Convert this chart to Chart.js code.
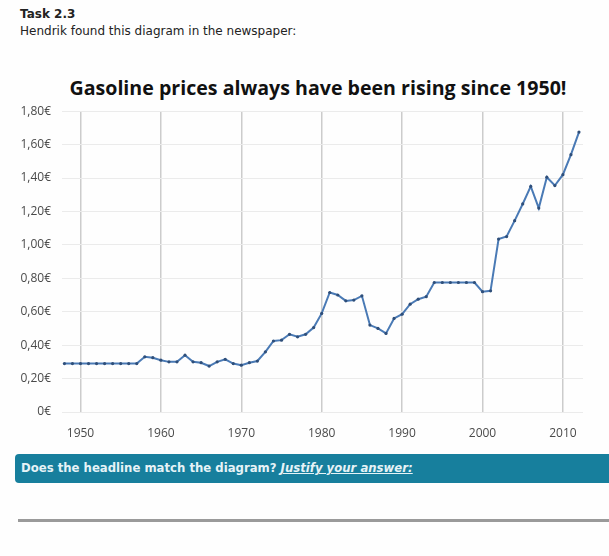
<!DOCTYPE html>
<html>
<head>
<meta charset="utf-8">
<script src="https://cdn.jsdelivr.net/npm/chart.js@4"></script>
<style>
  body { margin: 0; background: #fefefe; width: 609px; height: 556px; overflow: hidden; position: relative; }
  .hand { position: absolute; font-family: "DejaVu Sans", sans-serif; color: #222; }
  #task { left: 20px; top: 7px; font-size: 12px; font-weight: bold; }
  #intro { left: 20px; top: 24px; font-size: 12px; }
  #headline { position: absolute; left: 0; width: 636px; text-align: center; top: 74px;
    font-family: "Open Sans", sans-serif; font-weight: bold; font-size: 19.6px; color: #111; }
  #chart-box { position: absolute; left: 0; top: 93px; width: 609px; height: 352px; }
  #banner { position: absolute; left: 15px; top: 454px; width: 600px; height: 29px; background: #177f9d;
    border-radius: 4px; }
  #banner span { position: absolute; left: 6px; top: 7px; font-family: "DejaVu Sans", sans-serif;
    font-size: 11.7px; font-weight: bold; color: #e6f3f7; white-space: nowrap; }
  #banner i { text-decoration: underline; }
  #rule { position: absolute; left: 18px; top: 519px; width: 600px; height: 3px; background: #9a9a9a; }
</style>
</head>
<body>
<div class="hand" id="task">Task 2.3</div>
<div class="hand" id="intro">Hendrik found this diagram in the newspaper:</div>
<div id="headline">Gasoline prices always have been rising since 1950!</div>
<div id="chart-box"><canvas id="price-chart" width="609" height="352"></canvas></div>
<div id="banner"><span>Does the headline match the diagram? <i>Justify your answer:</i></span></div>
<div id="rule"></div>

<script>
// years and gasoline price (euro per litre)
const years = [
  1948, 1949, 1950, 1951, 1952, 1953, 1954, 1955, 1956, 1957,
  1958, 1959, 1960, 1961, 1962, 1963, 1964, 1965, 1966, 1967,
  1968, 1969, 1970, 1971, 1972, 1973, 1974, 1975, 1976, 1977,
  1978, 1979, 1980, 1981, 1982, 1983, 1984, 1985, 1986, 1987,
  1988, 1989, 1990, 1991, 1992, 1993, 1994, 1995, 1996, 1997,
  1998, 1999, 2000, 2001, 2002, 2003, 2004, 2005, 2006, 2007,
  2008, 2009, 2010, 2011, 2012
];
const prices = [
  0.29, 0.29, 0.29, 0.29, 0.29, 0.29, 0.29, 0.29, 0.29, 0.29,
  0.33, 0.325, 0.31, 0.30, 0.30, 0.34, 0.30, 0.295, 0.275, 0.30,
  0.315, 0.29, 0.28, 0.295, 0.305, 0.36, 0.425, 0.43, 0.465, 0.45,
  0.465, 0.505, 0.59, 0.715, 0.70, 0.665, 0.67, 0.695, 0.52, 0.50,
  0.47, 0.56, 0.585, 0.645, 0.675, 0.69, 0.775, 0.775, 0.775, 0.775,
  0.775, 0.775, 0.72, 0.725, 1.035, 1.05, 1.145, 1.245, 1.35, 1.22,
  1.405, 1.355, 1.42, 1.54, 1.675
];

// axis ticks
const yearTicks = [1950, 1960, 1970, 1980, 1990, 2000, 2010];
const priceTicks = [0, 0.2, 0.4, 0.6, 0.8, 1.0, 1.2, 1.4, 1.6, 1.8];

const points = years.map((y, i) => ({ x: y, y: prices[i] }));

const tickFont = { family: "Open Sans", size: 12 };

const ctx = document.getElementById("price-chart").getContext("2d");
new Chart(ctx, {
  type: "line",
  data: {
    datasets: [{
      label: "Gasoline price",
      data: points,
      borderColor: "#4a7ab5",
      borderWidth: 2,
      pointRadius: 1.6,
      pointBackgroundColor: "#2f4f7a",
      pointBorderWidth: 0,
      tension: 0
    }]
  },
  options: {
    responsive: false,
    animation: false,
    layout: { padding: { top: 3, right: 26, left: 0, bottom: 0 } },
    plugins: { legend: { display: false }, tooltip: { enabled: false } },
    scales: {
      x: {
        type: "linear",
        min: 1947.7,
        max: 2012.5,
        afterBuildTicks: s => { s.ticks = yearTicks.map(v => ({ value: v })); },
        afterFit: s => { s.height = 33; },
        grid: { color: "#cccccc", lineWidth: 1.5, drawTicks: false },
        border: { display: false },
        ticks: { color: "#4a4a4a", font: tickFont, padding: 14, maxRotation: 0, callback: v => String(v) }
      },
      y: {
        min: 0,
        max: 1.8,
        afterBuildTicks: s => { s.ticks = priceTicks.map(v => ({ value: v })); },
        afterFit: s => { s.width = 62; },
        grid: { color: "#ebebeb", lineWidth: 1, drawTicks: false },
        border: { display: false },
        ticks: {
          color: "#4a4a4a", font: tickFont, padding: 11,
          callback: v => v === 0 ? "0€" : v.toFixed(2).replace(".", ",") + "€"
        }
      }
    }
  }
});
</script>
</body>
</html>
